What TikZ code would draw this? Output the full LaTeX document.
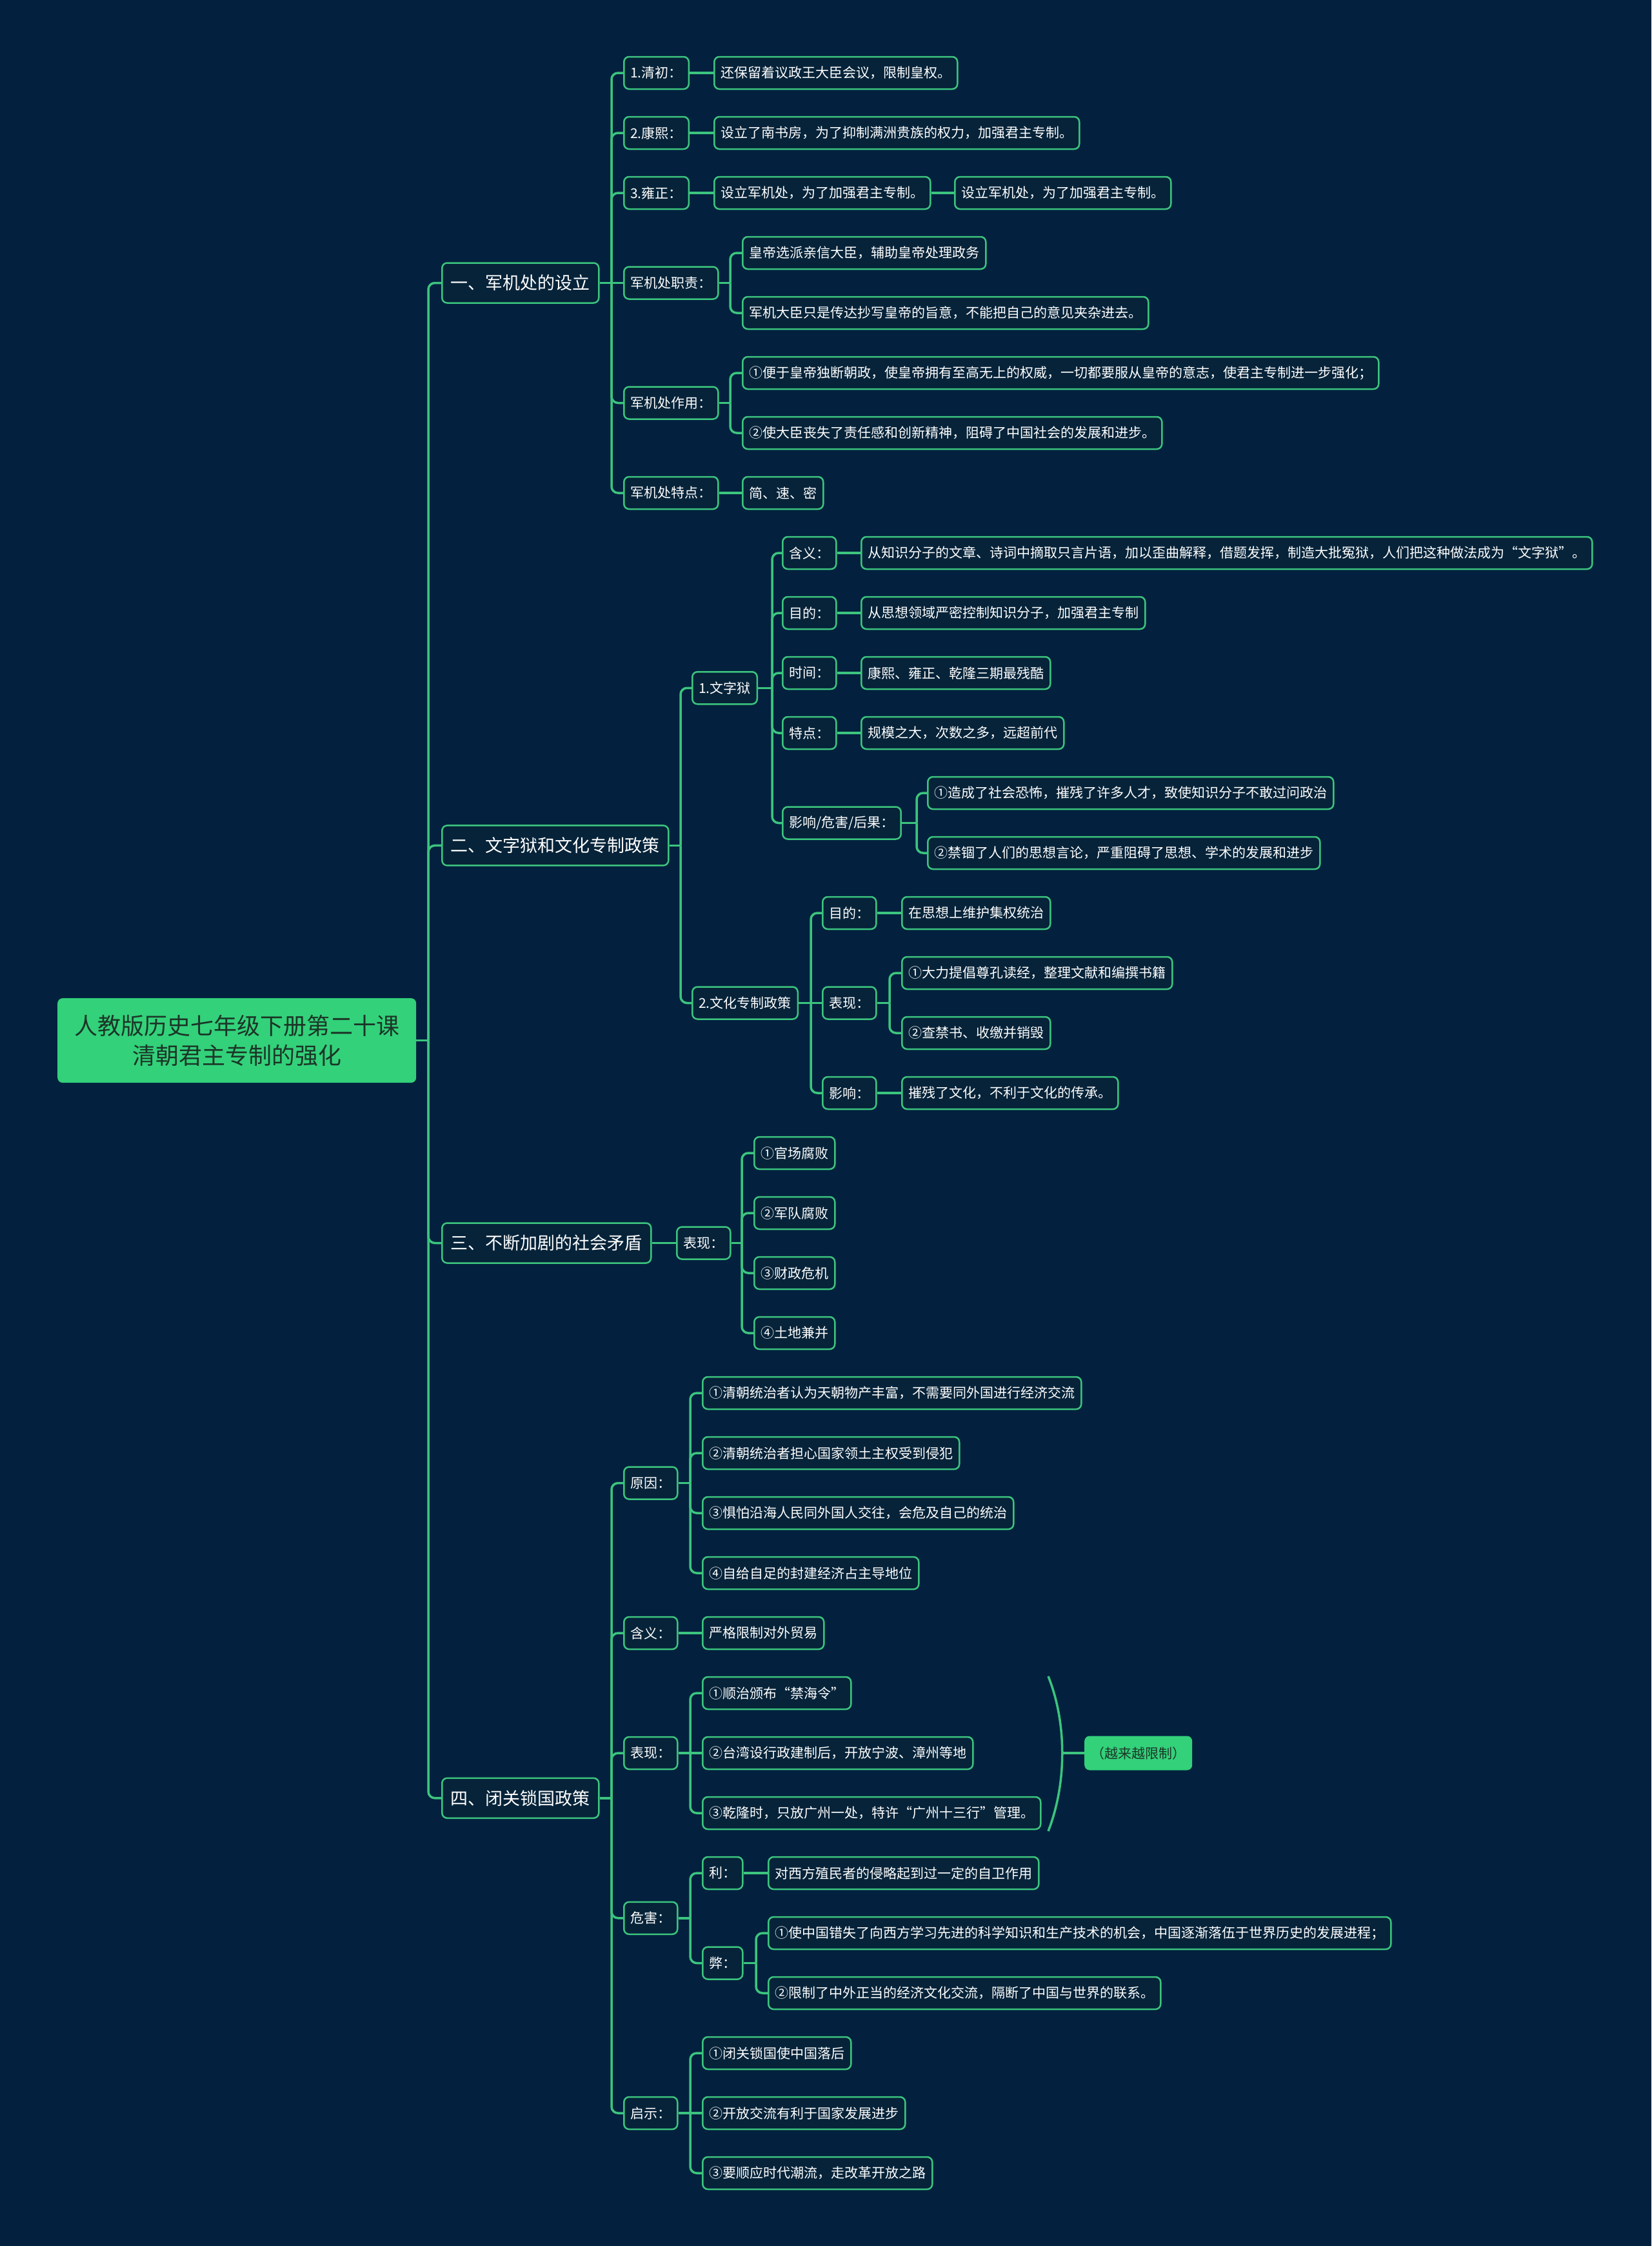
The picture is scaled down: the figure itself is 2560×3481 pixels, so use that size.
\documentclass[tikz,border=0pt]{standalone}
\usepackage{fontspec}
\setmainfont{Noto Sans CJK SC}
\usetikzlibrary{positioning}
\definecolor{bgnavy}{HTML}{03213E}
\definecolor{mmgreen}{HTML}{33D17A}
\definecolor{mmline}{HTML}{3CC47E}
\definecolor{boxfill}{HTML}{062339}
\definecolor{rootink}{HTML}{1B3527}

\begin{document}
\begin{tikzpicture}[x=1pt, y=-1pt,
    root/.style={fill=mmgreen, rounded corners=8pt, text=rootink, align=center, font=\fontsize{36}{46}\selectfont, inner xsep=26pt, minimum height=131pt, anchor=west},
    topic/.style={draw=mmline, fill=boxfill, line width=2.5pt, rounded corners=8pt, text=white, font=\fontsize{27}{32}\selectfont, inner xsep=13.5pt, minimum height=62pt, anchor=west},
    item/.style={draw=mmline, fill=boxfill, line width=2.5pt, rounded corners=8pt, text=white, font=\fontsize{21}{25}\selectfont, inner xsep=10pt, minimum height=50pt, anchor=west},
    tag/.style={fill=mmgreen, rounded corners=8pt, text=rootink, font=\fontsize{21}{25}\selectfont, inner xsep=10pt, minimum height=53pt, anchor=west},
    link/.style={draw=mmline, line width=3.5pt, rounded corners=10pt}]

    % Page and background
    \fill[bgnavy] (0,0) rectangle (2560,3481);
    \useasboundingbox (0,0) rectangle (2560,3481);

    % Root and topics
    \node[root] (root) at (89,1612.6) {人教版历史七年级下册第二十课\\清朝君主专制的强化};
    \node[topic] (T1) at (684,438.5) {一、军机处的设立};
    \node[topic] (T2) at (684,1310.4) {二、文字狱和文化专制政策};
    \node[topic] (T3) at (684,1926.5) {三、不断加剧的社会矛盾};
    \node[topic] (T4) at (684,2786.75) {四、闭关锁国政策};

    % Branch one
    \node[item] (A1) at (966,113) {1.清初：};
    \node[item] (A1x) at (1106,113) {还保留着议政王大臣会议，限制皇权。};
    \node[item] (A2) at (966,206) {2.康熙：};
    \node[item] (A2x) at (1106,206) {设立了南书房，为了抑制满洲贵族的权力，加强君主专制。};
    \node[item] (A3) at (966,299) {3.雍正：};
    \node[item] (A3x) at (1106,299) {设立军机处，为了加强君主专制。};
    \node[item] (A3y) at (1479,299) {设立军机处，为了加强君主专制。};
    \node[item] (A4) at (966,438.5) {军机处职责：};
    \node[item] (A4x) at (1150,392) {皇帝选派亲信大臣，辅助皇帝处理政务};
    \node[item] (A4y) at (1150,485) {军机大臣只是传达抄写皇帝的旨意，不能把自己的意见夹杂进去。};
    \node[item] (A5) at (966,624.5) {军机处作用：};
    \node[item] (A5x) at (1150,578) {①便于皇帝独断朝政，使皇帝拥有至高无上的权威，一切都要服从皇帝的意志，使君主专制进一步强化；};
    \node[item] (A5y) at (1150,671) {②使大臣丧失了责任感和创新精神，阻碍了中国社会的发展和进步。};
    \node[item] (A6) at (966,764) {军机处特点：};
    \node[item] (A6x) at (1150,764) {简、速、密};

    % Branch two
    \node[item] (B1) at (1072,1066.25) {1.文字狱};
    \node[item] (B11) at (1212,857) {含义：};
    \node[item] (B11x) at (1334,857) {从知识分子的文章、诗词中摘取只言片语，加以歪曲解释，借题发挥，制造大批冤狱，人们把这种做法成为“文字狱”。};
    \node[item] (B12) at (1212,950) {目的：};
    \node[item] (B12x) at (1334,950) {从思想领域严密控制知识分子，加强君主专制};
    \node[item] (B13) at (1212,1043) {时间：};
    \node[item] (B13x) at (1334,1043) {康熙、雍正、乾隆三期最残酷};
    \node[item] (B14) at (1212,1136) {特点：};
    \node[item] (B14x) at (1334,1136) {规模之大，次数之多，远超前代};
    \node[item] (B15) at (1212,1275.5) {影响/危害/后果：};
    \node[item] (B15x) at (1437,1229) {①造成了社会恐怖，摧残了许多人才，致使知识分子不敢过问政治};
    \node[item] (B15y) at (1437,1322) {②禁锢了人们的思想言论，严重阻碍了思想、学术的发展和进步};
    \node[item] (B2) at (1072,1554.5) {2.文化专制政策};
    \node[item] (B21) at (1274,1415) {目的：};
    \node[item] (B21x) at (1397,1415) {在思想上维护集权统治};
    \node[item] (B22) at (1274,1554.5) {表现：};
    \node[item] (B22x) at (1397,1508) {①大力提倡尊孔读经，整理文献和编撰书籍};
    \node[item] (B22y) at (1397,1601) {②查禁书、收缴并销毁};
    \node[item] (B23) at (1274,1694) {影响：};
    \node[item] (B23x) at (1397,1694) {摧残了文化，不利于文化的传承。};

    % Branch three
    \node[item] (C1) at (1048,1926.5) {表现：};
    \node[item] (C1a) at (1168,1787) {①官场腐败};
    \node[item] (C1b) at (1168,1880) {②军队腐败};
    \node[item] (C1c) at (1168,1973) {③财政危机};
    \node[item] (C1d) at (1168,2066) {④土地兼并};

    % Branch four
    \node[item] (D1) at (966,2298.5) {原因：};
    \node[item] (D1a) at (1088,2159) {①清朝统治者认为天朝物产丰富，不需要同外国进行经济交流};
    \node[item] (D1b) at (1088,2252) {②清朝统治者担心国家领土主权受到侵犯};
    \node[item] (D1c) at (1088,2345) {③惧怕沿海人民同外国人交往，会危及自己的统治};
    \node[item] (D1d) at (1088,2438) {④自给自足的封建经济占主导地位};
    \node[item] (D2) at (966,2531) {含义：};
    \node[item] (D2x) at (1088,2531) {严格限制对外贸易};
    \node[item] (D3) at (966,2717) {表现：};
    \node[item] (D3a) at (1088,2624) {①顺治颁布“禁海令”};
    \node[item] (D3b) at (1088,2717) {②台湾设行政建制后，开放宁波、漳州等地};
    \node[item] (D3c) at (1088,2810) {③乾隆时，只放广州一处，特许“广州十三行”管理。};
    \node[tag] (D3t) at (1681,2717) {（越来越限制）};
    \node[item] (D4) at (966,2972.75) {危害：};
    \node[item] (D4a) at (1088,2903) {利：};
    \node[item] (D4ax) at (1190,2903) {对西方殖民者的侵略起到过一定的自卫作用};
    \node[item] (D4b) at (1088,3042.5) {弊：};
    \node[item] (D4bx) at (1190,2996) {①使中国错失了向西方学习先进的科学知识和生产技术的机会，中国逐渐落伍于世界历史的发展进程；};
    \node[item] (D4by) at (1190,3089) {②限制了中外正当的经济文化交流，隔断了中国与世界的联系。};
    \node[item] (D5) at (966,3275) {启示：};
    \node[item] (D5a) at (1088,3182) {①闭关锁国使中国落后};
    \node[item] (D5b) at (1088,3275) {②开放交流有利于国家发展进步};
    \node[item] (D5c) at (1088,3368) {③要顺应时代潮流，走改革开放之路};

    % Fork points
    \coordinate (rootF) at (664,1612.6);
    \coordinate (T1F) at (948,438.5);
    \coordinate (A4F) at (1132,438.5);
    \coordinate (A5F) at (1132,624.5);
    \coordinate (T2F) at (1055,1310.4);
    \coordinate (B1F) at (1197,1066.25);
    \coordinate (B15F) at (1421,1275.5);
    \coordinate (B2F) at (1257,1554.5);
    \coordinate (B22F) at (1379,1554.5);
    \coordinate (C1F) at (1150,1926.5);
    \coordinate (T4F) at (948,2786.75);
    \coordinate (D1F) at (1070,2298.5);
    \coordinate (D3F) at (1070,2717);
    \coordinate (D4F) at (1070,2972.75);
    \coordinate (D4bF) at (1172,3042.5);
    \coordinate (D5F) at (1070,3275);
    \coordinate (braceTop) at (1625,2598);
    \coordinate (braceBot) at (1625,2838);
    \coordinate (braceMid) at (1647,2717);

    % Connectors: root to topics
    \draw[link] (root) -- (rootF);
    \draw[link] (rootF) |- (T1.west);
    \draw[link] (rootF) |- (T2.west);
    \draw[link] (rootF) |- (T3.west);
    \draw[link] (rootF) |- (T4.west);

    % Connectors: branch one
    \draw[link] (T1) -- (T1F);
    \draw[link] (T1F) |- (A1.west);
    \draw[link] (T1F) |- (A2.west);
    \draw[link] (T1F) |- (A3.west);
    \draw[link] (T1F) -- (A4.west);
    \draw[link] (T1F) |- (A5.west);
    \draw[link] (T1F) |- (A6.west);
    \draw[link] (A1) -- (A1x);
    \draw[link] (A2) -- (A2x);
    \draw[link] (A3) -- (A3x);
    \draw[link] (A3x) -- (A3y);
    \draw[link] (A4) -- (A4F);
    \draw[link] (A4F) |- (A4x.west);
    \draw[link] (A4F) |- (A4y.west);
    \draw[link] (A5) -- (A5F);
    \draw[link] (A5F) |- (A5x.west);
    \draw[link] (A5F) |- (A5y.west);
    \draw[link] (A6) -- (A6x);

    % Connectors: branch two
    \draw[link] (T2) -- (T2F);
    \draw[link] (T2F) |- (B1.west);
    \draw[link] (T2F) |- (B2.west);
    \draw[link] (B1) -- (B1F);
    \draw[link] (B1F) |- (B11.west);
    \draw[link] (B1F) |- (B12.west);
    \draw[link] (B1F) |- (B13.west);
    \draw[link] (B1F) |- (B14.west);
    \draw[link] (B1F) |- (B15.west);
    \draw[link] (B11) -- (B11x);
    \draw[link] (B12) -- (B12x);
    \draw[link] (B13) -- (B13x);
    \draw[link] (B14) -- (B14x);
    \draw[link] (B15) -- (B15F);
    \draw[link] (B15F) |- (B15x.west);
    \draw[link] (B15F) |- (B15y.west);
    \draw[link] (B2) -- (B2F);
    \draw[link] (B2F) |- (B21.west);
    \draw[link] (B2F) -- (B22.west);
    \draw[link] (B2F) |- (B23.west);
    \draw[link] (B21) -- (B21x);
    \draw[link] (B22) -- (B22F);
    \draw[link] (B22F) |- (B22x.west);
    \draw[link] (B22F) |- (B22y.west);
    \draw[link] (B23) -- (B23x);

    % Connectors: branch three
    \draw[link] (T3) -- (C1);
    \draw[link] (C1) -- (C1F);
    \draw[link] (C1F) |- (C1a.west);
    \draw[link] (C1F) |- (C1b.west);
    \draw[link] (C1F) |- (C1c.west);
    \draw[link] (C1F) |- (C1d.west);

    % Connectors: branch four
    \draw[link] (T4) -- (T4F);
    \draw[link] (T4F) |- (D1.west);
    \draw[link] (T4F) |- (D2.west);
    \draw[link] (T4F) |- (D3.west);
    \draw[link] (T4F) |- (D4.west);
    \draw[link] (T4F) |- (D5.west);
    \draw[link] (D1) -- (D1F);
    \draw[link] (D1F) |- (D1a.west);
    \draw[link] (D1F) |- (D1b.west);
    \draw[link] (D1F) |- (D1c.west);
    \draw[link] (D1F) |- (D1d.west);
    \draw[link] (D2) -- (D2x);
    \draw[link] (D3) -- (D3F);
    \draw[link] (D3F) |- (D3a.west);
    \draw[link] (D3F) -- (D3b.west);
    \draw[link] (D3F) |- (D3c.west);
    \draw[link] (braceTop) .. controls (1654,2670) and (1654,2764) .. (braceBot);
    \draw[link] (braceMid) -- (D3t);
    \draw[link] (D4) -- (D4F);
    \draw[link] (D4F) |- (D4a.west);
    \draw[link] (D4F) |- (D4b.west);
    \draw[link] (D4a) -- (D4ax);
    \draw[link] (D4b) -- (D4bF);
    \draw[link] (D4bF) |- (D4bx.west);
    \draw[link] (D4bF) |- (D4by.west);
    \draw[link] (D5) -- (D5F);
    \draw[link] (D5F) |- (D5a.west);
    \draw[link] (D5F) -- (D5b.west);
    \draw[link] (D5F) |- (D5c.west);
\end{tikzpicture}
\end{document}
